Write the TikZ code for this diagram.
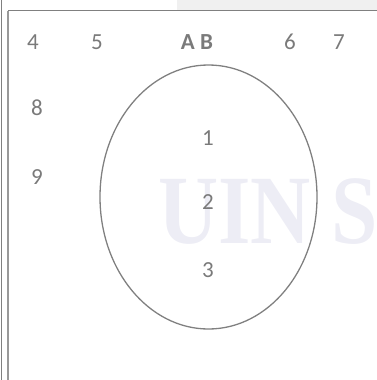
\documentclass[tikz,border=0pt]{standalone}
\usepackage{fontspec}
\usetikzlibrary{shapes.geometric}
\setmainfont{Carlito}
\newfontfamily\wmfont{Liberation Serif}
\definecolor{txtgray}{HTML}{7A7A7A}
\definecolor{linegray}{HTML}{808080}
\definecolor{wmcolor}{HTML}{EDEDF5}
\definecolor{bargray}{HTML}{F0F0F0}
\tikzset{
  lbl/.style={text=txtgray, font=\fontsize{23}{23}\selectfont, inner sep=0pt, anchor=center},
  boldlbl/.style={lbl, font=\fontsize{23}{23}\selectfont\bfseries},
  frameline/.style={draw=linegray, line width=1.2pt},
  venn/.style={draw=linegray, line width=1.3pt},
}
\begin{document}
\begin{tikzpicture}[x=1pt,y=-1pt]
\useasboundingbox (0,0) rectangle (377,380);
\begin{scope}
\clip (0,0) rectangle (377,380);
\fill[bargray] (177,0) rectangle (377,9.5);
\node[text=wmcolor, font=\wmfont\bfseries\fontsize{98}{98}\selectfont, inner sep=0pt, anchor=base west, xscale=0.85] (wm) at (158,243) {UIN ST};
\end{scope}
% frame
\draw[frameline] (1.5,0) -- (1.5,380);
\draw[frameline, draw=linegray!80] (8,10.5) -- (8,380);
\draw[frameline] (8,10.5) -- (377,10.5);
% ellipse
\node[venn, ellipse, minimum width=217pt, minimum height=264pt, inner sep=0pt] (set) at (208.5,197) {};
\node[lbl] (n4) at (33,42) {4};
\node[lbl] (n5) at (97,42) {5};
\node[boldlbl] (nAB) at (197,42) {A B};
\node[lbl] (n6) at (290,42) {6};
\node[lbl] (n7) at (339,42) {7};
\node[lbl] (n8) at (37,108) {8};
\node[lbl] (n9) at (37,177) {9};
\node[lbl] (n1) at (208,138) {1};
\node[lbl] (n2) at (208,202) {2};
\node[lbl] (n3) at (208,270) {3};
\end{tikzpicture}
\end{document}
